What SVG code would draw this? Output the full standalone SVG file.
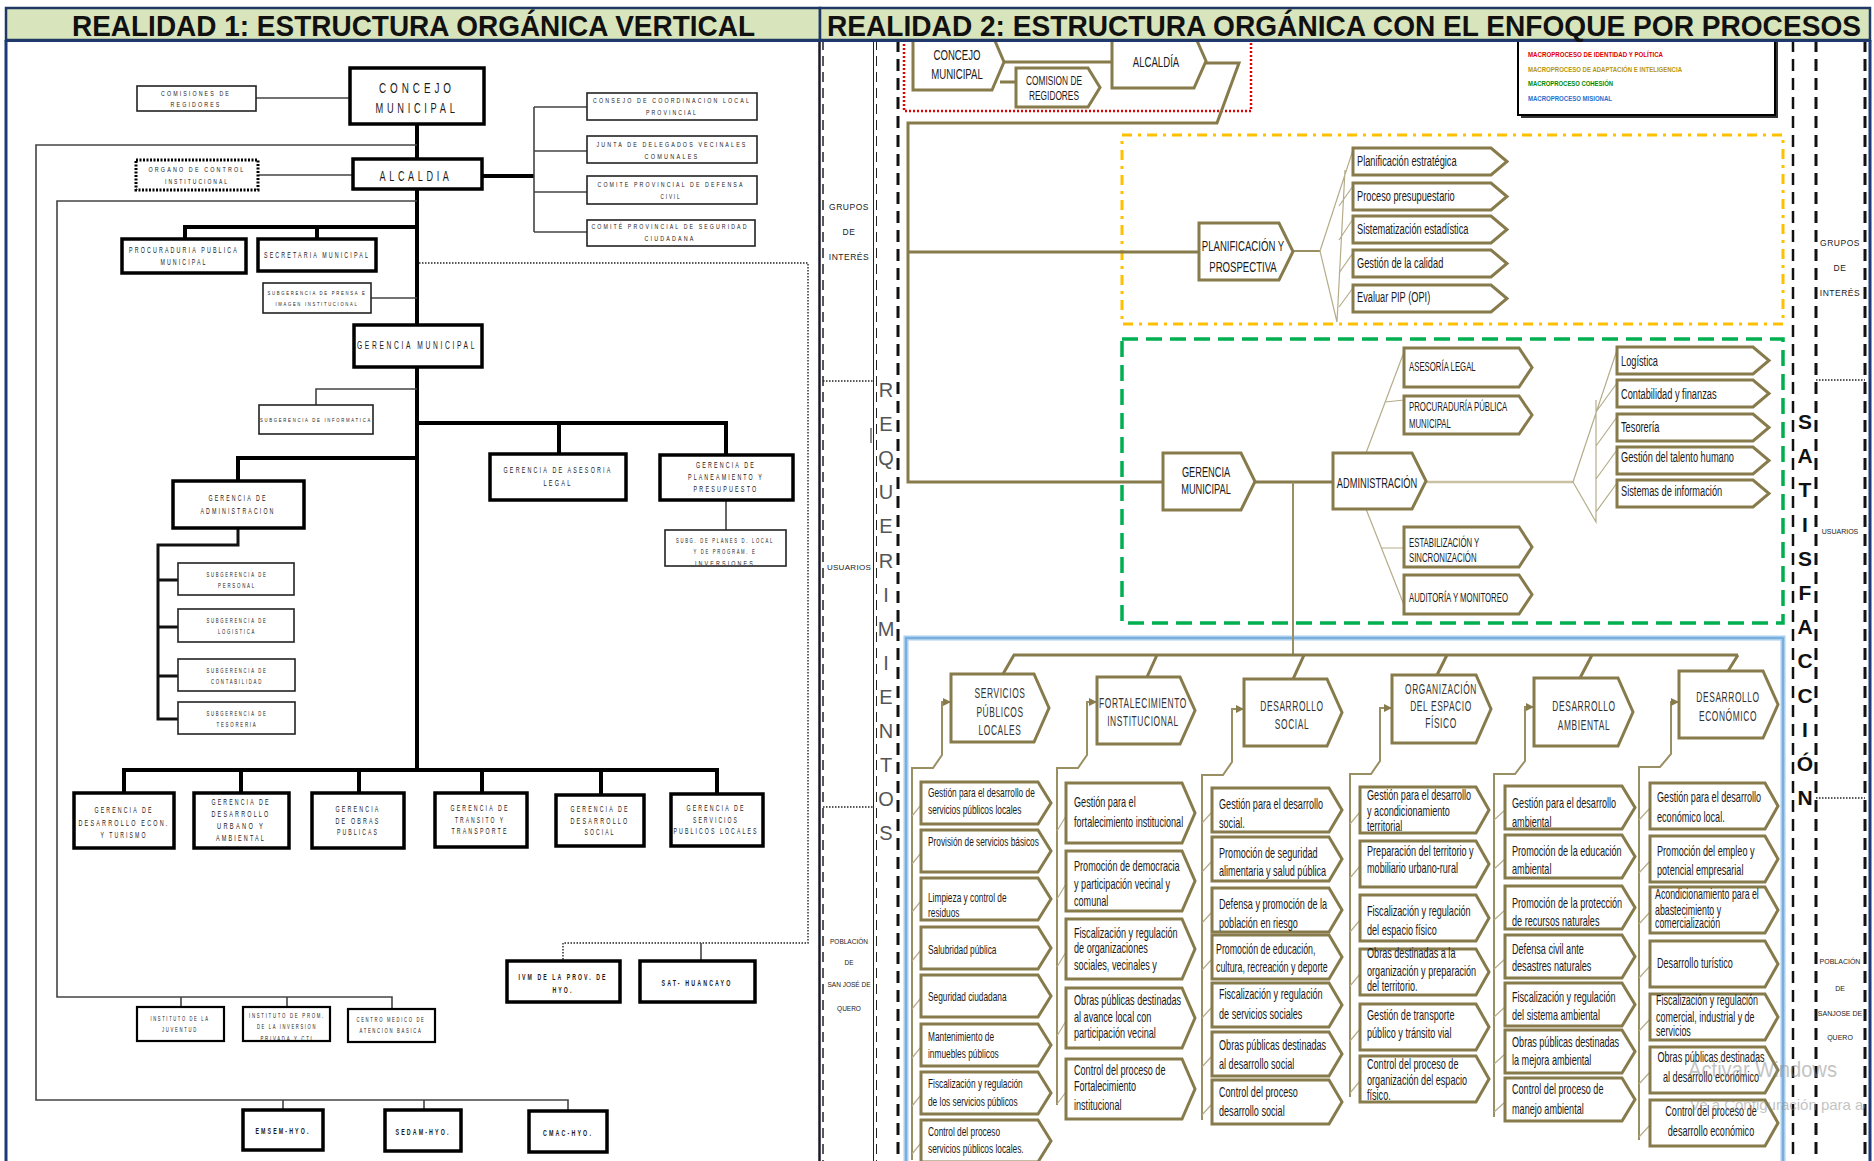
<svg xmlns="http://www.w3.org/2000/svg" width="1874" height="1161" viewBox="0 0 1874 1161">
<defs>
<style>
.lt{font-family:"Liberation Sans",Arial,sans-serif;fill:#1a1a1a;text-anchor:middle;letter-spacing:.4em}
.lb{font-weight:bold}
.bx{fill:#fff;stroke:#000;stroke-width:3.5}
.bt{fill:#fff;stroke:#222;stroke-width:1.6}
.k4{fill:none;stroke:#000;stroke-width:4}
.k3{fill:none;stroke:#111;stroke-width:3}
.k2{fill:none;stroke:#444;stroke-width:1.6}
.dot{fill:none;stroke:#222;stroke-width:1.4;stroke-dasharray:1.5 1.5}
.pg{fill:#fff;stroke:#877b4b;stroke-width:3}
.ol{fill:none;stroke:#877b4b;stroke-width:3}
.ol2{fill:none;stroke:#9a8f62;stroke-width:2}
.tk{fill:none;stroke:#b5ad8a;stroke-width:1.2}
.rt{font-family:"Liberation Sans",Arial,sans-serif;font-size:14px;fill:#1a1a1a}
.r1{font-family:"Liberation Sans",Arial,sans-serif;font-size:13px;fill:#1a1a1a}
.hd{font-family:"Liberation Sans",Arial,sans-serif;font-size:14px;fill:#333;text-anchor:middle;letter-spacing:1px}
.up{font-family:"Liberation Sans",Arial,sans-serif;font-size:12px;fill:#1a1a1a}
.sl{font-family:"Liberation Sans",Arial,sans-serif;font-size:8.5px;fill:#222;text-anchor:middle;letter-spacing:.5px}
.ss{font-family:"Liberation Sans",Arial,sans-serif;font-size:6.5px;fill:#222;text-anchor:middle}
.vd{fill:none;stroke:#111;stroke-width:3;stroke-dasharray:12 7}
.vt{fill:none;stroke:#222;stroke-width:1.5;stroke-dasharray:10 6}
.lg{font-family:"Liberation Sans",Arial,sans-serif;font-size:8px;font-weight:bold}
.tt{font-family:"Liberation Sans",Arial,sans-serif;font-size:30px;font-weight:bold;fill:#111}
</style>
<marker id="ah" markerUnits="userSpaceOnUse" markerWidth="8" markerHeight="8" refX="8" refY="4" orient="auto">
<path d="M0,0 L8,4 L0,8 Z" fill="#877b4b"/>
</marker>
<clipPath id="cp-planes"><rect x="666" y="531" width="119" height="34"/></clipPath>
<clipPath id="cp-inst"><rect x="244" y="1008" width="85" height="32"/></clipPath>
<clipPath id="cp-right"><rect x="1640" y="1050" width="225" height="80"/></clipPath>
</defs>

<rect x="0" y="0" width="1874" height="1161" fill="#fff"/>

<!-- ===== left panel: vertical structure ===== -->
<g id="connectors-left">
<path class="k4" d="M417,124 V770"/>
<path class="k4" d="M482,176 H534"/>
<path class="k4" d="M185,239 V227 H417 M317,227 V239"/>
<path class="k4" d="M417,423 H726 V455 M559,423 V454"/>
<path class="k4" d="M417,458 H238 V481"/>
<path class="k4" d="M124,793 V770 H717 V793 M241,770 V793 M359,770 V793 M482,770 V793 M601,770 V795"/>
<path class="k3" d="M238,528 V545 H158 V719 H178 M158,580 H178 M158,627 H178 M158,676 H178"/>
<path class="k2" d="M256,98 H350 M259,175 H353"/>
<path class="k2" d="M534,107 V232 M534,107 H587 M534,151 H587 M534,192 H587 M534,232 H587"/>
<path class="k2" d="M417,145 H36 V1100 H568 V1111 M283,1100 V1110 M424,1100 V1110"/>
<path class="k2" d="M417,201 H57 V997 H392 V1009 M181,997 V1007 M287,997 V1007"/>
<path class="k2" d="M371,298 H417 M417,389 H316 V405 M726,500 V530"/>
<path class="dot" d="M419,263 H808 V943 H563 V961"/>
<path class="k2" d="M701,943 V961"/>
</g>

<g id="n-comisiones"><rect class="bt" x="137" y="86" width="119" height="25"/>
<text class="lt" x="196" y="96" font-size="8" textLength="70" lengthAdjust="spacingAndGlyphs">COMISIONES DE</text>
<text class="lt" x="196" y="107" font-size="8" textLength="51" lengthAdjust="spacingAndGlyphs">REGIDORES</text></g>

<g id="n-concejo"><rect class="bx" x="350" y="68" width="134" height="56"/>
<text class="lt" x="417" y="93" font-size="15" textLength="76" lengthAdjust="spacingAndGlyphs">CONCEJO</text>
<text class="lt" x="417" y="113" font-size="15" textLength="83" lengthAdjust="spacingAndGlyphs">MUNICIPAL</text></g>

<g id="n-consejo"><rect class="bt" x="587" y="93" width="170" height="27"/>
<text class="lt" x="672" y="103" font-size="7.5" textLength="158" lengthAdjust="spacingAndGlyphs">CONSEJO DE COORDINACION LOCAL</text>
<text class="lt" x="672" y="115" font-size="7.5" textLength="52" lengthAdjust="spacingAndGlyphs">PROVINCIAL</text></g>

<g id="n-junta"><rect class="bt" x="587" y="136" width="170" height="27"/>
<text class="lt" x="672" y="147" font-size="7.5" textLength="151" lengthAdjust="spacingAndGlyphs">JUNTA DE DELEGADOS VECINALES</text>
<text class="lt" x="672" y="159" font-size="7.5" textLength="55" lengthAdjust="spacingAndGlyphs">COMUNALES</text></g>

<g id="n-defensa"><rect class="bt" x="587" y="176" width="170" height="28"/>
<text class="lt" x="671" y="187" font-size="7.5" textLength="147" lengthAdjust="spacingAndGlyphs">COMITE PROVINCIAL DE DEFENSA</text>
<text class="lt" x="671" y="199" font-size="7.5" textLength="21" lengthAdjust="spacingAndGlyphs">CIVIL</text></g>

<g id="n-seguridad"><rect class="bt" x="587" y="220" width="168" height="26"/>
<text class="lt" x="670" y="229" font-size="7.5" textLength="157" lengthAdjust="spacingAndGlyphs">COMITÉ PROVINCIAL DE SEGURIDAD</text>
<text class="lt" x="670" y="241" font-size="7.5" textLength="51" lengthAdjust="spacingAndGlyphs">CIUDADANA</text></g>

<g id="n-alcaldia"><rect class="bx" x="353" y="159" width="129" height="30"/>
<text class="lt" x="416" y="181" font-size="15" textLength="73" lengthAdjust="spacingAndGlyphs">ALCALDIA</text></g>

<g id="n-organo"><rect x="136" y="160" width="122" height="30" fill="#fff" stroke="#000" stroke-width="3" stroke-dasharray="2 1.5"/>
<text class="lt" x="197" y="172" font-size="8" textLength="97" lengthAdjust="spacingAndGlyphs">ORGANO DE CONTROL</text>
<text class="lt" x="197" y="184" font-size="8" textLength="64" lengthAdjust="spacingAndGlyphs">INSTITUCIONAL</text></g>

<g id="n-procuraduria"><rect class="bx" x="122" y="239" width="124" height="34"/>
<text class="lt" x="184" y="253" font-size="8.5" textLength="110" lengthAdjust="spacingAndGlyphs">PROCURADURIA PUBLICA</text>
<text class="lt" x="184" y="265" font-size="8.5" textLength="47" lengthAdjust="spacingAndGlyphs">MUNICIPAL</text></g>

<g id="n-secretaria"><rect class="bx" x="258" y="239" width="118" height="32"/>
<text class="lt" x="317" y="258" font-size="8.5" textLength="106" lengthAdjust="spacingAndGlyphs">SECRETARIA MUNICIPAL</text></g>

<g id="n-prensa"><rect class="bt" x="263" y="283" width="108" height="30"/>
<text class="lt" x="317" y="295" font-size="6" textLength="99" lengthAdjust="spacingAndGlyphs">SUBGERENCIA DE PRENSA E</text>
<text class="lt" x="317" y="306" font-size="6" textLength="83" lengthAdjust="spacingAndGlyphs">IMAGEN INSTITUCIONAL</text></g>

<g id="n-gerencia-municipal"><rect class="bx" x="354" y="325" width="128" height="42"/>
<text class="lt" x="417" y="349" font-size="10" textLength="120" lengthAdjust="spacingAndGlyphs">GERENCIA MUNICIPAL</text></g>

<g id="n-informatica"><rect class="bt" x="259" y="405" width="114" height="29"/>
<text class="lt" x="316" y="422" font-size="6" textLength="112" lengthAdjust="spacingAndGlyphs">SUBGERENCIA DE INFORMATICA</text></g>

<g id="n-asesoria"><rect class="bx" x="490" y="454" width="136" height="46"/>
<text class="lt" x="558" y="473" font-size="9" textLength="109" lengthAdjust="spacingAndGlyphs">GERENCIA DE ASESORIA</text>
<text class="lt" x="558" y="486" font-size="9" textLength="29" lengthAdjust="spacingAndGlyphs">LEGAL</text></g>

<g id="n-planeamiento"><rect class="bx" x="660" y="455" width="133" height="45"/>
<text class="lt" x="726" y="468" font-size="9" textLength="60" lengthAdjust="spacingAndGlyphs">GERENCIA DE</text>
<text class="lt" x="726" y="480" font-size="9" textLength="76" lengthAdjust="spacingAndGlyphs">PLANEAMIENTO Y</text>
<text class="lt" x="726" y="492" font-size="9" textLength="65" lengthAdjust="spacingAndGlyphs">PRESUPUESTO</text></g>

<g id="n-planes"><rect class="bt" x="665" y="530" width="121" height="36"/>
<g clip-path="url(#cp-planes)">
<text class="lt" x="725" y="543" font-size="6.5" textLength="98" lengthAdjust="spacingAndGlyphs">SUBG. DE PLANES D. LOCAL</text>
<text class="lt" x="725" y="554" font-size="6.5" textLength="63" lengthAdjust="spacingAndGlyphs">Y DE PROGRAM. E</text>
<text class="lt" x="725" y="566" font-size="6.5" textLength="60" lengthAdjust="spacingAndGlyphs">INVERSIONES</text></g></g>

<g id="n-administracion"><rect class="bx" x="173" y="481" width="131" height="47"/>
<text class="lt" x="238" y="501" font-size="9" textLength="59" lengthAdjust="spacingAndGlyphs">GERENCIA DE</text>
<text class="lt" x="238" y="514" font-size="9" textLength="75" lengthAdjust="spacingAndGlyphs">ADMINISTRACION</text></g>

<g id="n-personal"><rect class="bt" x="178" y="563" width="116" height="32"/>
<text class="lt" x="237" y="577" font-size="7" textLength="61" lengthAdjust="spacingAndGlyphs">SUBGERENCIA DE</text>
<text class="lt" x="237" y="588" font-size="7" textLength="38" lengthAdjust="spacingAndGlyphs">PERSONAL</text></g>
<g id="n-logistica"><rect class="bt" x="178" y="609" width="116" height="33"/>
<text class="lt" x="237" y="623" font-size="7" textLength="61" lengthAdjust="spacingAndGlyphs">SUBGERENCIA DE</text>
<text class="lt" x="237" y="634" font-size="7" textLength="38" lengthAdjust="spacingAndGlyphs">LOGISTICA</text></g>
<g id="n-contabilidad"><rect class="bt" x="178" y="659" width="117" height="32"/>
<text class="lt" x="237" y="673" font-size="7" textLength="61" lengthAdjust="spacingAndGlyphs">SUBGERENCIA DE</text>
<text class="lt" x="237" y="684" font-size="7" textLength="52" lengthAdjust="spacingAndGlyphs">CONTABILIDAD</text></g>
<g id="n-tesoreria"><rect class="bt" x="178" y="702" width="117" height="32"/>
<text class="lt" x="237" y="716" font-size="7" textLength="61" lengthAdjust="spacingAndGlyphs">SUBGERENCIA DE</text>
<text class="lt" x="237" y="727" font-size="7" textLength="41" lengthAdjust="spacingAndGlyphs">TESORERIA</text></g>

<g id="n-ger-economico"><rect class="bx" x="74" y="793" width="100" height="55"/>
<text class="lt" x="124" y="813" font-size="9" textLength="59" lengthAdjust="spacingAndGlyphs">GERENCIA DE</text>
<text class="lt" x="124" y="826" font-size="9" textLength="91" lengthAdjust="spacingAndGlyphs">DESARROLLO ECON.</text>
<text class="lt" x="124" y="838" font-size="9" textLength="47" lengthAdjust="spacingAndGlyphs">Y TURISMO</text></g>
<g id="n-ger-urbano"><rect class="bx" x="194" y="793" width="95" height="55"/>
<text class="lt" x="241" y="805" font-size="9" textLength="59" lengthAdjust="spacingAndGlyphs">GERENCIA DE</text>
<text class="lt" x="241" y="817" font-size="9" textLength="59" lengthAdjust="spacingAndGlyphs">DESARROLLO</text>
<text class="lt" x="241" y="829" font-size="9" textLength="48" lengthAdjust="spacingAndGlyphs">URBANO Y</text>
<text class="lt" x="241" y="841" font-size="9" textLength="50" lengthAdjust="spacingAndGlyphs">AMBIENTAL</text></g>
<g id="n-ger-obras"><rect class="bx" x="312" y="793" width="92" height="55"/>
<text class="lt" x="358" y="812" font-size="9" textLength="45" lengthAdjust="spacingAndGlyphs">GERENCIA</text>
<text class="lt" x="358" y="824" font-size="9" textLength="45" lengthAdjust="spacingAndGlyphs">DE OBRAS</text>
<text class="lt" x="358" y="835" font-size="9" textLength="42" lengthAdjust="spacingAndGlyphs">PUBLICAS</text></g>
<g id="n-ger-transito"><rect class="bx" x="435" y="793" width="92" height="54"/>
<text class="lt" x="480" y="811" font-size="9" textLength="59" lengthAdjust="spacingAndGlyphs">GERENCIA DE</text>
<text class="lt" x="480" y="823" font-size="9" textLength="50" lengthAdjust="spacingAndGlyphs">TRANSITO Y</text>
<text class="lt" x="480" y="834" font-size="9" textLength="57" lengthAdjust="spacingAndGlyphs">TRANSPORTE</text></g>
<g id="n-ger-social"><rect class="bx" x="556" y="795" width="88" height="51"/>
<text class="lt" x="600" y="812" font-size="9" textLength="59" lengthAdjust="spacingAndGlyphs">GERENCIA DE</text>
<text class="lt" x="600" y="824" font-size="9" textLength="59" lengthAdjust="spacingAndGlyphs">DESARROLLO</text>
<text class="lt" x="600" y="835" font-size="9" textLength="31" lengthAdjust="spacingAndGlyphs">SOCIAL</text></g>
<g id="n-ger-servicios"><rect class="bx" x="671" y="794" width="92" height="52"/>
<text class="lt" x="716" y="811" font-size="9" textLength="59" lengthAdjust="spacingAndGlyphs">GERENCIA DE</text>
<text class="lt" x="716" y="823" font-size="9" textLength="46" lengthAdjust="spacingAndGlyphs">SERVICIOS</text>
<text class="lt" x="716" y="834" font-size="9" textLength="85" lengthAdjust="spacingAndGlyphs">PUBLICOS LOCALES</text></g>

<g id="n-ivm"><rect class="bx" x="507" y="961" width="113" height="41"/>
<text class="lt lb" x="563" y="980" font-size="8.5" textLength="89" lengthAdjust="spacingAndGlyphs">IVM DE LA PROV. DE</text>
<text class="lt lb" x="563" y="993" font-size="8.5" textLength="21" lengthAdjust="spacingAndGlyphs">HYO.</text></g>
<g id="n-sat"><rect class="bx" x="640" y="961" width="115" height="41"/>
<text class="lt lb" x="697" y="986" font-size="8.5" textLength="71" lengthAdjust="spacingAndGlyphs">SAT- HUANCAYO</text></g>

<g id="n-juventud"><rect class="bx" x="137" y="1007" width="87" height="34" style="stroke-width:2.2"/>
<text class="lt" x="180" y="1021" font-size="6.5" textLength="59" lengthAdjust="spacingAndGlyphs">INSTITUTO DE LA</text>
<text class="lt" x="180" y="1032" font-size="6.5" textLength="36" lengthAdjust="spacingAndGlyphs">JUVENTUD</text></g>
<g id="n-inversion"><rect class="bx" x="243" y="1007" width="87" height="34" style="stroke-width:2.2"/>
<g clip-path="url(#cp-inst)">
<text class="lt" x="287" y="1018" font-size="6.5" textLength="76" lengthAdjust="spacingAndGlyphs">INSTITUTO DE PROM.</text>
<text class="lt" x="287" y="1029" font-size="6.5" textLength="60" lengthAdjust="spacingAndGlyphs">DE LA INVERSION</text>
<text class="lt" x="287" y="1041" font-size="6.5" textLength="53" lengthAdjust="spacingAndGlyphs">PRIVADA Y CTI</text></g></g>
<g id="n-centro-medico"><rect class="bx" x="348" y="1009" width="87" height="33" style="stroke-width:2.2"/>
<text class="lt" x="391" y="1022" font-size="6.5" textLength="69" lengthAdjust="spacingAndGlyphs">CENTRO MEDICO DE</text>
<text class="lt" x="391" y="1033" font-size="6.5" textLength="63" lengthAdjust="spacingAndGlyphs">ATENCION BASICA</text></g>

<g id="n-emsem"><rect class="bx" x="243" y="1110" width="80" height="40"/>
<text class="lt lb" x="283" y="1134" font-size="8.5" textLength="55" lengthAdjust="spacingAndGlyphs">EMSEM-HYO.</text></g>
<g id="n-sedam"><rect class="bx" x="385" y="1110" width="76" height="41"/>
<text class="lt lb" x="423" y="1135" font-size="8.5" textLength="55" lengthAdjust="spacingAndGlyphs">SEDAM-HYO.</text></g>
<g id="n-cmac"><rect class="bx" x="529" y="1111" width="78" height="41"/>
<text class="lt lb" x="568" y="1136" font-size="8.5" textLength="50" lengthAdjust="spacingAndGlyphs">CMAC-HYO.</text></g>

<!-- ===== right panel: process structure ===== -->
<g id="frames">
<path class="vt" d="M823,40 V1161"/>
<path d="M873.5,40 V1161" stroke="#222" stroke-width="1"/>
<path class="vt" d="M876.5,40 V1161" style="stroke-width:1"/>
<path class="vd" d="M898,40 V1161"/>
<path class="vd" d="M1793,40 V1161" style="stroke-width:2.5"/>
<path class="vd" d="M1816,40 V1161"/>
<path class="vd" d="M1865,40 V1161"/>
<path class="dot" d="M823,381 H874 M823,807 H874 M1816,380 H1865 M1816,798 H1865"/>
<path d="M871,428 V443" stroke="#444" stroke-width="1.2"/>
<rect x="904" y="34" width="347" height="77" fill="none" stroke="#e00000" stroke-width="2.5" stroke-dasharray="2 2"/>
<rect x="1122" y="135" width="661" height="189" fill="none" stroke="#ffc000" stroke-width="3" stroke-dasharray="10 6 3 6"/>
<rect x="1122" y="339" width="661" height="284" fill="none" stroke="#00b050" stroke-width="3.5" stroke-dasharray="16 8"/>
<rect x="906" y="638" width="877" height="540" fill="none" stroke="#a9cdec" stroke-width="5"/>
<rect x="906" y="638" width="877" height="540" fill="none" stroke="#5b9bd5" stroke-width="1.2"/>
</g>

<g id="strip-labels">
<text class="sl" x="849" y="210">GRUPOS</text>
<text class="sl" x="849" y="235">DE</text>
<text class="sl" x="849" y="260">INTERÉS</text>
<text class="sl" x="849" y="570" style="font-size:8px;letter-spacing:.3px">USUARIOS</text>
<text class="ss" x="849" y="944">POBLACIÓN</text>
<text class="ss" x="849" y="965">DE</text>
<text class="ss" x="849" y="987">SAN JOSÉ DE</text>
<text class="ss" x="849" y="1011">QUERO</text>
<text font-family="Liberation Sans, Arial, sans-serif" font-size="20" fill="#555" text-anchor="middle"><tspan x="886" y="397">R</tspan><tspan x="886" y="431">E</tspan><tspan x="886" y="465">Q</tspan><tspan x="886" y="499">U</tspan><tspan x="886" y="533">E</tspan><tspan x="886" y="568">R</tspan><tspan x="886" y="602">I</tspan><tspan x="886" y="636">M</tspan><tspan x="886" y="670">I</tspan><tspan x="886" y="704">E</tspan><tspan x="886" y="738">N</tspan><tspan x="886" y="772">T</tspan><tspan x="886" y="806">O</tspan><tspan x="886" y="840">S</tspan></text>
<text font-family="Liberation Sans, Arial, sans-serif" font-size="21" font-weight="bold" fill="#111" text-anchor="middle"><tspan x="1805" y="429">S</tspan><tspan x="1805" y="463">A</tspan><tspan x="1805" y="497">T</tspan><tspan x="1805" y="532">I</tspan><tspan x="1805" y="566">S</tspan><tspan x="1805" y="600">F</tspan><tspan x="1805" y="634">A</tspan><tspan x="1805" y="668">C</tspan><tspan x="1805" y="703">C</tspan><tspan x="1805" y="737">I</tspan><tspan x="1805" y="771">Ó</tspan><tspan x="1805" y="805">N</tspan></text>
<text class="sl" x="1840" y="246">GRUPOS</text>
<text class="sl" x="1840" y="271">DE</text>
<text class="sl" x="1840" y="296">INTERÉS</text>
<text class="ss" x="1840" y="534" style="font-size:7px">USUARIOS</text>
<text class="ss" x="1840" y="964" style="font-size:7px">POBLACIÓN</text>
<text class="ss" x="1840" y="991" style="font-size:7px">DE</text>
<text class="ss" x="1840" y="1016" style="font-size:7px">SANJOSE DE</text>
<text class="ss" x="1840" y="1040" style="font-size:7px">QUERO</text>
</g>

<g id="legend">
<rect x="1521" y="36" width="257" height="82" fill="#333"/>
<rect x="1518" y="33" width="257" height="82" fill="#fff" stroke="#000" stroke-width="2"/>
<text class="lg" x="1528" y="57" fill="#e00000" textLength="135" lengthAdjust="spacingAndGlyphs">MACROPROCESO DE IDENTIDAD Y POLÍTICA</text>
<text class="lg" x="1528" y="72" fill="#b8960c" textLength="154" lengthAdjust="spacingAndGlyphs">MACROPROCESO DE ADAPTACIÓN E INTELIGENCIA</text>
<text class="lg" x="1528" y="86" fill="#008a00" textLength="85" lengthAdjust="spacingAndGlyphs">MACROPROCESO COHESIÓN</text>
<text class="lg" x="1528" y="101" fill="#1f6fd0" textLength="84" lengthAdjust="spacingAndGlyphs">MACROPROCESO MISIONAL</text>
</g>

<g id="connectors-right">
<path class="ol" d="M1004,62 H1112 M1000,82 H1016"/>
<path class="ol" d="M1206,63 H1239 L1217,123 H908 V482 H1163 M908,252 H1199"/>
<path class="ol2" d="M1293,251 H1320"/>
<path class="tk" d="M1320,251 L1353,150 M1320,251 L1337,322 M1345,170 L1337,322 M1339,206 L1353,186 M1339,240 L1353,219 M1339,273 L1353,253 M1339,307 L1353,288"/>
<path class="ol" d="M1255,482 H1333"/>
<path class="ol2" d="M1293,482 V655"/>
<path class="tk" d="M1366,453 L1404,352 M1385,402 L1404,400 M1366,509 L1404,605 M1382,548 L1404,548"/>
<path d="M1426,482 H1573" fill="none" stroke="#c9c2a2" stroke-width="2.5"/>
<path class="tk" d="M1617,350 L1573,482 L1596,522 V400 M1596,412 L1617,383 M1596,446 L1617,417 M1596,479 L1617,450 M1596,512 L1617,483"/>
<path class="ol" d="M1013,655 H1738 M1014,655 L1003,674 M1157,655 L1147,677 M1304,655 L1293,679 M1447,655 L1437,675 M1592,655 L1580,678 M1738,655 L1728,671"/>
<path class="ol2" marker-end="url(#ah)" d="M912,1160 V768 H933 L942,755 V702 H951"/>
<path class="ol2" marker-end="url(#ah)" d="M1057,1105 V768 H1078 L1087,755 V702 H1097"/>
<path class="ol2" marker-end="url(#ah)" d="M1202,1120 V775 H1223 L1232,762 V709 H1244"/>
<path class="ol2" marker-end="url(#ah)" d="M1350,1097 V774 H1371 L1380,761 V708 H1392"/>
<path class="ol2" marker-end="url(#ah)" d="M1494,1117 V774 H1515 L1525,761 V707 H1534"/>
<path class="ol2" marker-end="url(#ah)" d="M1639,1140 V767 H1660 L1671,754 V702 H1679"/>
<path class="tk" d="M912,816 L921,805 M912,864 L921,853 M912,912 L921,901 M912,961 L921,950 M912,1009 L921,998 M912,1058 L921,1047 M912,1106 L921,1095 M912,1154 L921,1143"/>
<path class="tk" d="M1057,831 L1066,816 M1057,899 L1066,884 M1057,967 L1066,952 M1057,1036 L1066,1021 M1057,1104 L1066,1092"/>
<path class="tk" d="M1202,823 L1212,812 M1202,872 L1212,861 M1202,923 L1212,912 M1202,970 L1212,959 M1202,1018 L1212,1007 M1202,1067 L1212,1056 M1202,1115 L1212,1104"/>
<path class="tk" d="M1350,824 L1360,812 M1350,878 L1360,866 M1350,932 L1360,920 M1350,986 L1360,974 M1350,1041 L1360,1029 M1350,1093 L1360,1081"/>
<path class="tk" d="M1494,820 L1505,810 M1494,869 L1505,859 M1494,920 L1505,910 M1494,969 L1505,959 M1494,1017 L1505,1007 M1494,1064 L1505,1054 M1494,1112 L1505,1102"/>
<path class="tk" d="M1639,820 L1650,808 M1639,873 L1650,861 M1639,924 L1650,912 M1639,978 L1650,966 M1639,1031 L1650,1019 M1639,1084 L1650,1072 M1639,1137 L1650,1125"/>
</g>

<g id="p-concejo"><path class="pg" d="M913,34 H992 L1004,62 L992,90 H913 Z"/>
<text class="rt" text-anchor="middle" transform="translate(957,60) scale(.64,1)"><tspan x="0" style="font-size:15px">CONCEJO</tspan><tspan x="0" y="19" style="font-size:15px">MUNICIPAL</tspan></text></g>
<g id="p-comision"><path class="pg" d="M1016,68 H1088 L1100,87.5 L1088,107 H1016 Z"/>
<text class="rt" text-anchor="middle" transform="translate(1054,85) scale(.64,1)"><tspan x="0" style="font-size:13px">COMISION DE</tspan><tspan x="0" y="15" style="font-size:13px">REGIDORES</tspan></text></g>
<g id="p-alcaldia"><path class="pg" d="M1112,34 H1194 L1206,61 L1194,88 H1112 Z"/>
<text class="rt" text-anchor="middle" transform="translate(1156,67) scale(.64,1)" style="font-size:15px">ALCALDÍA</text></g>

<g id="p-planificacion"><path class="pg" d="M1199,223 H1279 L1293,251.5 L1279,280 H1199 Z"/>
<text class="rt" text-anchor="middle" transform="translate(1243,251) scale(.64,1)" style="font-size:15px"><tspan x="0">PLANIFICACIÓN Y</tspan><tspan x="0" y="21">PROSPECTIVA</tspan></text></g>
<g id="p-plan-estrategica"><path class="pg" d="M1353,148 H1491 L1507,161.5 L1491,175 H1353 Z"/>
<text class="rt" transform="translate(1357,166) scale(.66,1)">Planificación estratégica</text></g>
<g id="p-presupuestario"><path class="pg" d="M1353,183 H1491 L1507,196.5 L1491,210 H1353 Z"/>
<text class="rt" transform="translate(1357,201) scale(.66,1)">Proceso presupuestario</text></g>
<g id="p-estadistica"><path class="pg" d="M1353,216 H1491 L1507,229.5 L1491,243 H1353 Z"/>
<text class="rt" transform="translate(1357,234) scale(.66,1)">Sistematización estadística</text></g>
<g id="p-calidad"><path class="pg" d="M1353,250 H1491 L1507,263.5 L1491,277 H1353 Z"/>
<text class="rt" transform="translate(1357,268) scale(.66,1)">Gestión de la calidad</text></g>
<g id="p-pip"><path class="pg" d="M1353,285 H1491 L1507,298.5 L1491,312 H1353 Z"/>
<text class="rt" transform="translate(1357,302) scale(.66,1)">Evaluar PIP (OPI)</text></g>

<g id="p-gerencia"><path class="pg" d="M1163,453 H1241 L1255,481.5 L1241,510 H1163 Z"/>
<text class="rt" text-anchor="middle" transform="translate(1206,477) scale(.66,1)"><tspan x="0">GERENCIA</tspan><tspan x="0" y="17">MUNICIPAL</tspan></text></g>
<g id="p-administracion"><path class="pg" d="M1333,453 H1412 L1426,481 L1412,509 H1333 Z"/>
<text class="rt" text-anchor="middle" transform="translate(1377,488) scale(.62,1)" style="font-size:15px">ADMINISTRACIÓN</text></g>
<g id="p-asesoria"><path class="pg" d="M1404,348 H1519 L1532,367.5 L1519,387 H1404 Z"/>
<text class="up" transform="translate(1409,371) scale(.65,1)">ASESORÍA  LEGAL</text></g>
<g id="p-procuraduria"><path class="pg" d="M1404,396 H1519 L1532,415 L1519,434 H1404 Z"/>
<text class="up" transform="translate(1409,411) scale(.65,1)"><tspan x="0">PROCURADURÍA PÚBLICA</tspan><tspan x="0" y="17">MUNICIPAL</tspan></text></g>
<g id="p-estabilizacion"><path class="pg" d="M1404,527 H1519 L1532,547 L1519,567 H1404 Z"/>
<text class="up" transform="translate(1409,547) scale(.65,1)"><tspan x="0">ESTABILIZACIÓN  Y</tspan><tspan x="0" y="15">SINCRONIZACIÓN</tspan></text></g>
<g id="p-auditoria"><path class="pg" d="M1404,575 H1519 L1532,594.5 L1519,614 H1404 Z"/>
<text class="up" transform="translate(1409,602) scale(.65,1)">AUDITORÍA Y MONITOREO</text></g>
<g id="p-logistica"><path class="pg" d="M1617,347 H1753 L1769,360.5 L1753,374 H1617 Z"/>
<text class="rt" transform="translate(1621,366) scale(.66,1)">Logística</text></g>
<g id="p-contabilidad"><path class="pg" d="M1617,380 H1753 L1769,393.5 L1753,407 H1617 Z"/>
<text class="rt" transform="translate(1621,399) scale(.66,1)">Contabilidad y finanzas</text></g>
<g id="p-tesoreria"><path class="pg" d="M1617,414 H1753 L1769,427.5 L1753,441 H1617 Z"/>
<text class="rt" transform="translate(1621,432) scale(.66,1)">Tesorería</text></g>
<g id="p-talento"><path class="pg" d="M1617,447 H1753 L1769,460.5 L1753,474 H1617 Z"/>
<text class="rt" transform="translate(1621,462) scale(.66,1)">Gestión del talento humano</text></g>
<g id="p-sistemas"><path class="pg" d="M1617,480 H1753 L1769,493.5 L1753,507 H1617 Z"/>
<text class="rt" transform="translate(1621,496) scale(.66,1)">Sistemas de información</text></g>

<!-- column headers -->
<g id="h-servicios"><path class="pg" d="M951,674 H1034 L1049,708 L1034,742 H951 Z"/>
<text class="hd" transform="translate(1000,698) scale(.6,1)"><tspan x="0">SERVICIOS</tspan><tspan x="0" y="19">PÚBLICOS</tspan><tspan x="0" y="37">LOCALES</tspan></text></g>
<g id="h-fortalecimiento"><path class="pg" d="M1097,677 H1180 L1195,710.5 L1180,744 H1097 Z"/>
<text class="hd" transform="translate(1143,708) scale(.6,1)"><tspan x="0">FORTALECIMIENTO</tspan><tspan x="0" y="18">INSTITUCIONAL</tspan></text></g>
<g id="h-social"><path class="pg" d="M1244,679 H1327 L1342,712.5 L1327,746 H1244 Z"/>
<text class="hd" transform="translate(1292,711) scale(.6,1)"><tspan x="0">DESARROLLO</tspan><tspan x="0" y="18">SOCIAL</tspan></text></g>
<g id="h-espacio"><path class="pg" d="M1392,675 H1476 L1491,709 L1476,743 H1392 Z"/>
<text class="hd" transform="translate(1441,694) scale(.6,1)"><tspan x="0">ORGANIZACIÓN</tspan><tspan x="0" y="17">DEL ESPACIO</tspan><tspan x="0" y="34">FÍSICO</tspan></text></g>
<g id="h-ambiental"><path class="pg" d="M1534,678 H1618 L1633,712 L1618,746 H1534 Z"/>
<text class="hd" transform="translate(1584,711) scale(.6,1)"><tspan x="0">DESARROLLO</tspan><tspan x="0" y="19">AMBIENTAL</tspan></text></g>
<g id="h-economico"><path class="pg" d="M1679,671 H1763 L1778,704.5 L1763,738 H1679 Z"/>
<text class="hd" transform="translate(1728,702) scale(.6,1)"><tspan x="0">DESARROLLO</tspan><tspan x="0" y="19">ECONÓMICO</tspan></text></g>

<!-- column 1 items -->
<g id="c1-1"><path class="pg" d="M921,782 H1038 L1051,803 L1038,824 H921 Z"/><text class="r1" transform="translate(928,797) scale(.64,1)"><tspan x="0">Gestión para el desarrollo de</tspan><tspan x="0" y="17">servicios públicos locales</tspan></text></g>
<g id="c1-2"><path class="pg" d="M921,830 H1038 L1051,851 L1038,872 H921 Z"/><text class="r1" transform="translate(928,846) scale(.64,1)">Provisión de servicios básicos</text></g>
<g id="c1-3"><path class="pg" d="M921,878 H1038 L1051,899 L1038,920 H921 Z"/><text class="r1" transform="translate(928,902) scale(.64,1)"><tspan x="0">Limpieza y control de</tspan><tspan x="0" y="15">residuos</tspan></text></g>
<g id="c1-4"><path class="pg" d="M921,927 H1038 L1051,948 L1038,969 H921 Z"/><text class="r1" transform="translate(928,954) scale(.64,1)">Salubridad pública</text></g>
<g id="c1-5"><path class="pg" d="M921,975 H1038 L1051,996 L1038,1017 H921 Z"/><text class="r1" transform="translate(928,1001) scale(.64,1)">Seguridad ciudadana</text></g>
<g id="c1-6"><path class="pg" d="M921,1024 H1038 L1051,1045 L1038,1066 H921 Z"/><text class="r1" transform="translate(928,1041) scale(.64,1)"><tspan x="0">Mantenimiento de</tspan><tspan x="0" y="17">inmuebles públicos</tspan></text></g>
<g id="c1-7"><path class="pg" d="M921,1072 H1038 L1051,1093 L1038,1114 H921 Z"/><text class="r1" transform="translate(928,1088) scale(.64,1)"><tspan x="0">Fiscalización y regulación</tspan><tspan x="0" y="18">de los servicios públicos</tspan></text></g>
<g id="c1-8"><path class="pg" d="M921,1120 H1038 L1051,1141 L1038,1162 H921 Z"/><text class="r1" transform="translate(928,1136) scale(.64,1)"><tspan x="0">Control del proceso</tspan><tspan x="0" y="17">servicios públicos locales.</tspan></text></g>

<!-- column 2 items -->
<g id="c2-1"><path class="pg" d="M1066,783 H1182 L1195,813 L1182,843 H1066 Z"/><text class="rt" transform="translate(1074,807) scale(.65,1)"><tspan x="0">Gestión para el</tspan><tspan x="0" y="20">fortalecimiento institucional</tspan></text></g>
<g id="c2-2"><path class="pg" d="M1066,851 H1182 L1195,881 L1182,911 H1066 Z"/><text class="rt" transform="translate(1074,871) scale(.65,1)"><tspan x="0">Promoción de democracia</tspan><tspan x="0" y="18">y participación vecinal y</tspan><tspan x="0" y="35">comunal</tspan></text></g>
<g id="c2-3"><path class="pg" d="M1066,919 H1182 L1195,949 L1182,979 H1066 Z"/><text class="rt" transform="translate(1074,938) scale(.65,1)"><tspan x="0">Fiscalización y regulación</tspan><tspan x="0" y="15">de organizaciones</tspan><tspan x="0" y="32">sociales, vecinales y</tspan></text></g>
<g id="c2-4"><path class="pg" d="M1066,988 H1182 L1195,1018 L1182,1048 H1066 Z"/><text class="rt" transform="translate(1074,1005) scale(.65,1)"><tspan x="0">Obras públicas destinadas</tspan><tspan x="0" y="17">al avance local con</tspan><tspan x="0" y="33">participación vecinal</tspan></text></g>
<g id="c2-5"><path class="pg" d="M1066,1059 H1182 L1195,1089 L1182,1119 H1066 Z"/><text class="rt" transform="translate(1074,1075) scale(.65,1)"><tspan x="0">Control del proceso de</tspan><tspan x="0" y="16">Fortalecimiento</tspan><tspan x="0" y="35">institucional</tspan></text></g>

<!-- column 3 items -->
<g id="c3-1"><path class="pg" d="M1212,788 H1329 L1342,810 L1329,832 H1212 Z"/><text class="rt" transform="translate(1219,809) scale(.65,1)"><tspan x="0">Gestión para el desarrollo</tspan><tspan x="0" y="19">social.</tspan></text></g>
<g id="c3-2"><path class="pg" d="M1212,837 H1329 L1342,859 L1329,881 H1212 Z"/><text class="rt" transform="translate(1219,858) scale(.65,1)"><tspan x="0">Promoción de seguridad</tspan><tspan x="0" y="18">alimentaria y salud pública</tspan></text></g>
<g id="c3-3"><path class="pg" d="M1212,888 H1329 L1342,910 L1329,932 H1212 Z"/><text class="rt" transform="translate(1219,909) scale(.65,1)"><tspan x="0">Defensa y promoción de la</tspan><tspan x="0" y="19">población en riesgo</tspan></text></g>
<g id="c3-4"><path class="pg" d="M1212,935 H1329 L1342,957 L1329,979 H1212 Z"/><text class="rt" transform="translate(1216,954) scale(.63,1)"><tspan x="0">Promoción de educación,</tspan><tspan x="0" y="18">cultura, recreación y deporte</tspan></text></g>
<g id="c3-5"><path class="pg" d="M1212,983 H1329 L1342,1005 L1329,1027 H1212 Z"/><text class="rt" transform="translate(1219,999) scale(.65,1)"><tspan x="0">Fiscalización y regulación</tspan><tspan x="0" y="20">de servicios sociales</tspan></text></g>
<g id="c3-6"><path class="pg" d="M1212,1032 H1329 L1342,1054 L1329,1076 H1212 Z"/><text class="rt" transform="translate(1219,1050) scale(.65,1)"><tspan x="0">Obras públicas destinadas</tspan><tspan x="0" y="19">al desarrollo social</tspan></text></g>
<g id="c3-7"><path class="pg" d="M1212,1080 H1329 L1342,1102 L1329,1124 H1212 Z"/><text class="rt" transform="translate(1219,1097) scale(.65,1)"><tspan x="0">Control del proceso</tspan><tspan x="0" y="19">desarrollo social</tspan></text></g>

<!-- column 4 items -->
<g id="c4-1"><path class="pg" d="M1360,787 H1476 L1489,810 L1476,833 H1360 Z"/><text class="rt" transform="translate(1367,800) scale(.65,1)"><tspan x="0">Gestión para el desarrollo</tspan><tspan x="0" y="16">y acondicionamiento</tspan><tspan x="0" y="31">territorial</tspan></text></g>
<g id="c4-2"><path class="pg" d="M1360,841 H1476 L1489,864 L1476,887 H1360 Z"/><text class="rt" transform="translate(1367,856) scale(.65,1)"><tspan x="0">Preparación del territorio y</tspan><tspan x="0" y="17">mobiliario urbano-rural</tspan></text></g>
<g id="c4-3"><path class="pg" d="M1360,895 H1476 L1489,918 L1476,941 H1360 Z"/><text class="rt" transform="translate(1367,916) scale(.65,1)"><tspan x="0">Fiscalización y regulación</tspan><tspan x="0" y="19">del espacio físico</tspan></text></g>
<g id="c4-4"><path class="pg" d="M1360,949 H1476 L1489,972 L1476,995 H1360 Z"/><text class="rt" transform="translate(1367,958) scale(.65,1)"><tspan x="0">Obras destinadas a la</tspan><tspan x="0" y="18">organización y preparación</tspan><tspan x="0" y="33">del territorio.</tspan></text></g>
<g id="c4-5"><path class="pg" d="M1360,1004 H1476 L1489,1027 L1476,1050 H1360 Z"/><text class="rt" transform="translate(1367,1020) scale(.65,1)"><tspan x="0">Gestión de transporte</tspan><tspan x="0" y="18">público y tránsito vial</tspan></text></g>
<g id="c4-6"><path class="pg" d="M1360,1056 H1476 L1489,1079 L1476,1102 H1360 Z"/><text class="rt" transform="translate(1367,1069) scale(.65,1)"><tspan x="0">Control del proceso de</tspan><tspan x="0" y="16">organización del espacio</tspan><tspan x="0" y="31">físico.</tspan></text></g>

<!-- column 5 items -->
<g id="c5-1"><path class="pg" d="M1505,786 H1622 L1635,807.5 L1622,829 H1505 Z"/><text class="rt" transform="translate(1512,808) scale(.65,1)"><tspan x="0">Gestión para el desarrollo</tspan><tspan x="0" y="19">ambiental</tspan></text></g>
<g id="c5-2"><path class="pg" d="M1505,835 H1622 L1635,856.5 L1622,878 H1505 Z"/><text class="rt" transform="translate(1512,856) scale(.65,1)"><tspan x="0">Promoción de la educación</tspan><tspan x="0" y="18">ambiental</tspan></text></g>
<g id="c5-3"><path class="pg" d="M1505,886 H1622 L1635,907.5 L1622,929 H1505 Z"/><text class="rt" transform="translate(1512,908) scale(.65,1)"><tspan x="0">Promoción de la protección</tspan><tspan x="0" y="18">de recursos naturales</tspan></text></g>
<g id="c5-4"><path class="pg" d="M1505,935 H1622 L1635,956.5 L1622,978 H1505 Z"/><text class="rt" transform="translate(1512,954) scale(.65,1)"><tspan x="0">Defensa civil ante</tspan><tspan x="0" y="17">desastres naturales</tspan></text></g>
<g id="c5-5"><path class="pg" d="M1505,983 H1622 L1635,1004.5 L1622,1026 H1505 Z"/><text class="rt" transform="translate(1512,1002) scale(.65,1)"><tspan x="0">Fiscalización y regulación</tspan><tspan x="0" y="18">del sistema ambiental</tspan></text></g>
<g id="c5-6"><path class="pg" d="M1505,1030 H1622 L1635,1051.5 L1622,1073 H1505 Z"/><text class="rt" transform="translate(1512,1047) scale(.65,1)"><tspan x="0">Obras públicas destinadas</tspan><tspan x="0" y="18">la mejora ambiental</tspan></text></g>
<g id="c5-7"><path class="pg" d="M1505,1078 H1622 L1635,1099.5 L1622,1121 H1505 Z"/><text class="rt" transform="translate(1512,1094) scale(.65,1)"><tspan x="0">Control del proceso de</tspan><tspan x="0" y="20">manejo ambiental</tspan></text></g>

<!-- column 6 items -->
<g id="c6-1"><path class="pg" d="M1650,783 H1765 L1778,806 L1765,829 H1650 Z"/><text class="rt" transform="translate(1657,802) scale(.65,1)"><tspan x="0">Gestión para el desarrollo</tspan><tspan x="0" y="20">económico local.</tspan></text></g>
<g id="c6-2"><path class="pg" d="M1650,836 H1765 L1778,859 L1765,882 H1650 Z"/><text class="rt" transform="translate(1657,856) scale(.65,1)"><tspan x="0">Promoción del empleo y</tspan><tspan x="0" y="19">potencial empresarial</tspan></text></g>
<g id="c6-3"><path class="pg" d="M1650,887 H1765 L1778,910 L1765,933 H1650 Z"/><text class="rt" transform="translate(1655,899) scale(.63,1)"><tspan x="0">Acondicionamiento para el</tspan><tspan x="0" y="16">abastecimiento y</tspan><tspan x="0" y="29">comercialización</tspan></text></g>
<g id="c6-4"><path class="pg" d="M1650,941 H1765 L1778,964 L1765,987 H1650 Z"/><text class="rt" transform="translate(1657,968) scale(.65,1)">Desarrollo turístico</text></g>
<g id="c6-5"><path class="pg" d="M1650,994 H1765 L1778,1017 L1765,1040 H1650 Z"/><text class="rt" transform="translate(1656,1005) scale(.64,1)"><tspan x="0">Fiscalización y regulación</tspan><tspan x="0" y="17">comercial, industrial y de</tspan><tspan x="0" y="31">servicios</tspan></text></g>
<g id="c6-6"><path class="pg" d="M1650,1047 H1765 L1778,1070 L1765,1093 H1650 Z"/><text class="rt" text-anchor="middle" transform="translate(1711,1062) scale(.65,1)"><tspan x="0">Obras públicas destinadas</tspan><tspan x="0" y="20">al desarrollo económico</tspan></text></g>
<g id="c6-7"><path class="pg" d="M1650,1100 H1765 L1778,1123 L1765,1146 H1650 Z"/><text class="rt" text-anchor="middle" transform="translate(1711,1116) scale(.65,1)"><tspan x="0">Control del proceso de</tspan><tspan x="0" y="20">desarrollo económico</tspan></text></g>

<!-- system watermark -->
<g id="watermark" clip-path="url(#cp-right)" fill="#8a8a8a" opacity=".5" font-family="Liberation Sans, Arial, sans-serif">
<text x="1688" y="1077" font-size="22" textLength="149" lengthAdjust="spacingAndGlyphs">Activar Windows</text>
<text x="1690" y="1110" font-size="15">Ve a Configuración para activar Windows.</text>
</g>

<!-- panel borders and titles -->
<g id="panels">
<path d="M6,40 V1161" stroke="#1f3a7a" stroke-width="3"/>
<path d="M819.5,40 V1161" stroke="#1a1a2a" stroke-width="2.5"/>
<path d="M1870,40 V1161" stroke="#1f3a7a" stroke-width="3"/>
<path d="M6,41 H1870" stroke="#1f3a7a" stroke-width="2"/>
</g>
<g id="title-left">
<rect x="6" y="8" width="814" height="32" fill="#d8e4bc" stroke="#1f3864" stroke-width="2.5"/>
<text class="tt" x="72" y="36" textLength="683" lengthAdjust="spacingAndGlyphs">REALIDAD 1: ESTRUCTURA ORGÁNICA VERTICAL</text>
</g>
<g id="title-right">
<rect x="820" y="8" width="1050" height="32" fill="#d8e4bc" stroke="#1f3864" stroke-width="2.5"/>
<text class="tt" x="827" y="36" textLength="1034" lengthAdjust="spacingAndGlyphs">REALIDAD 2: ESTRUCTURA ORGÁNICA CON EL ENFOQUE POR PROCESOS</text>
</g>
</svg>
